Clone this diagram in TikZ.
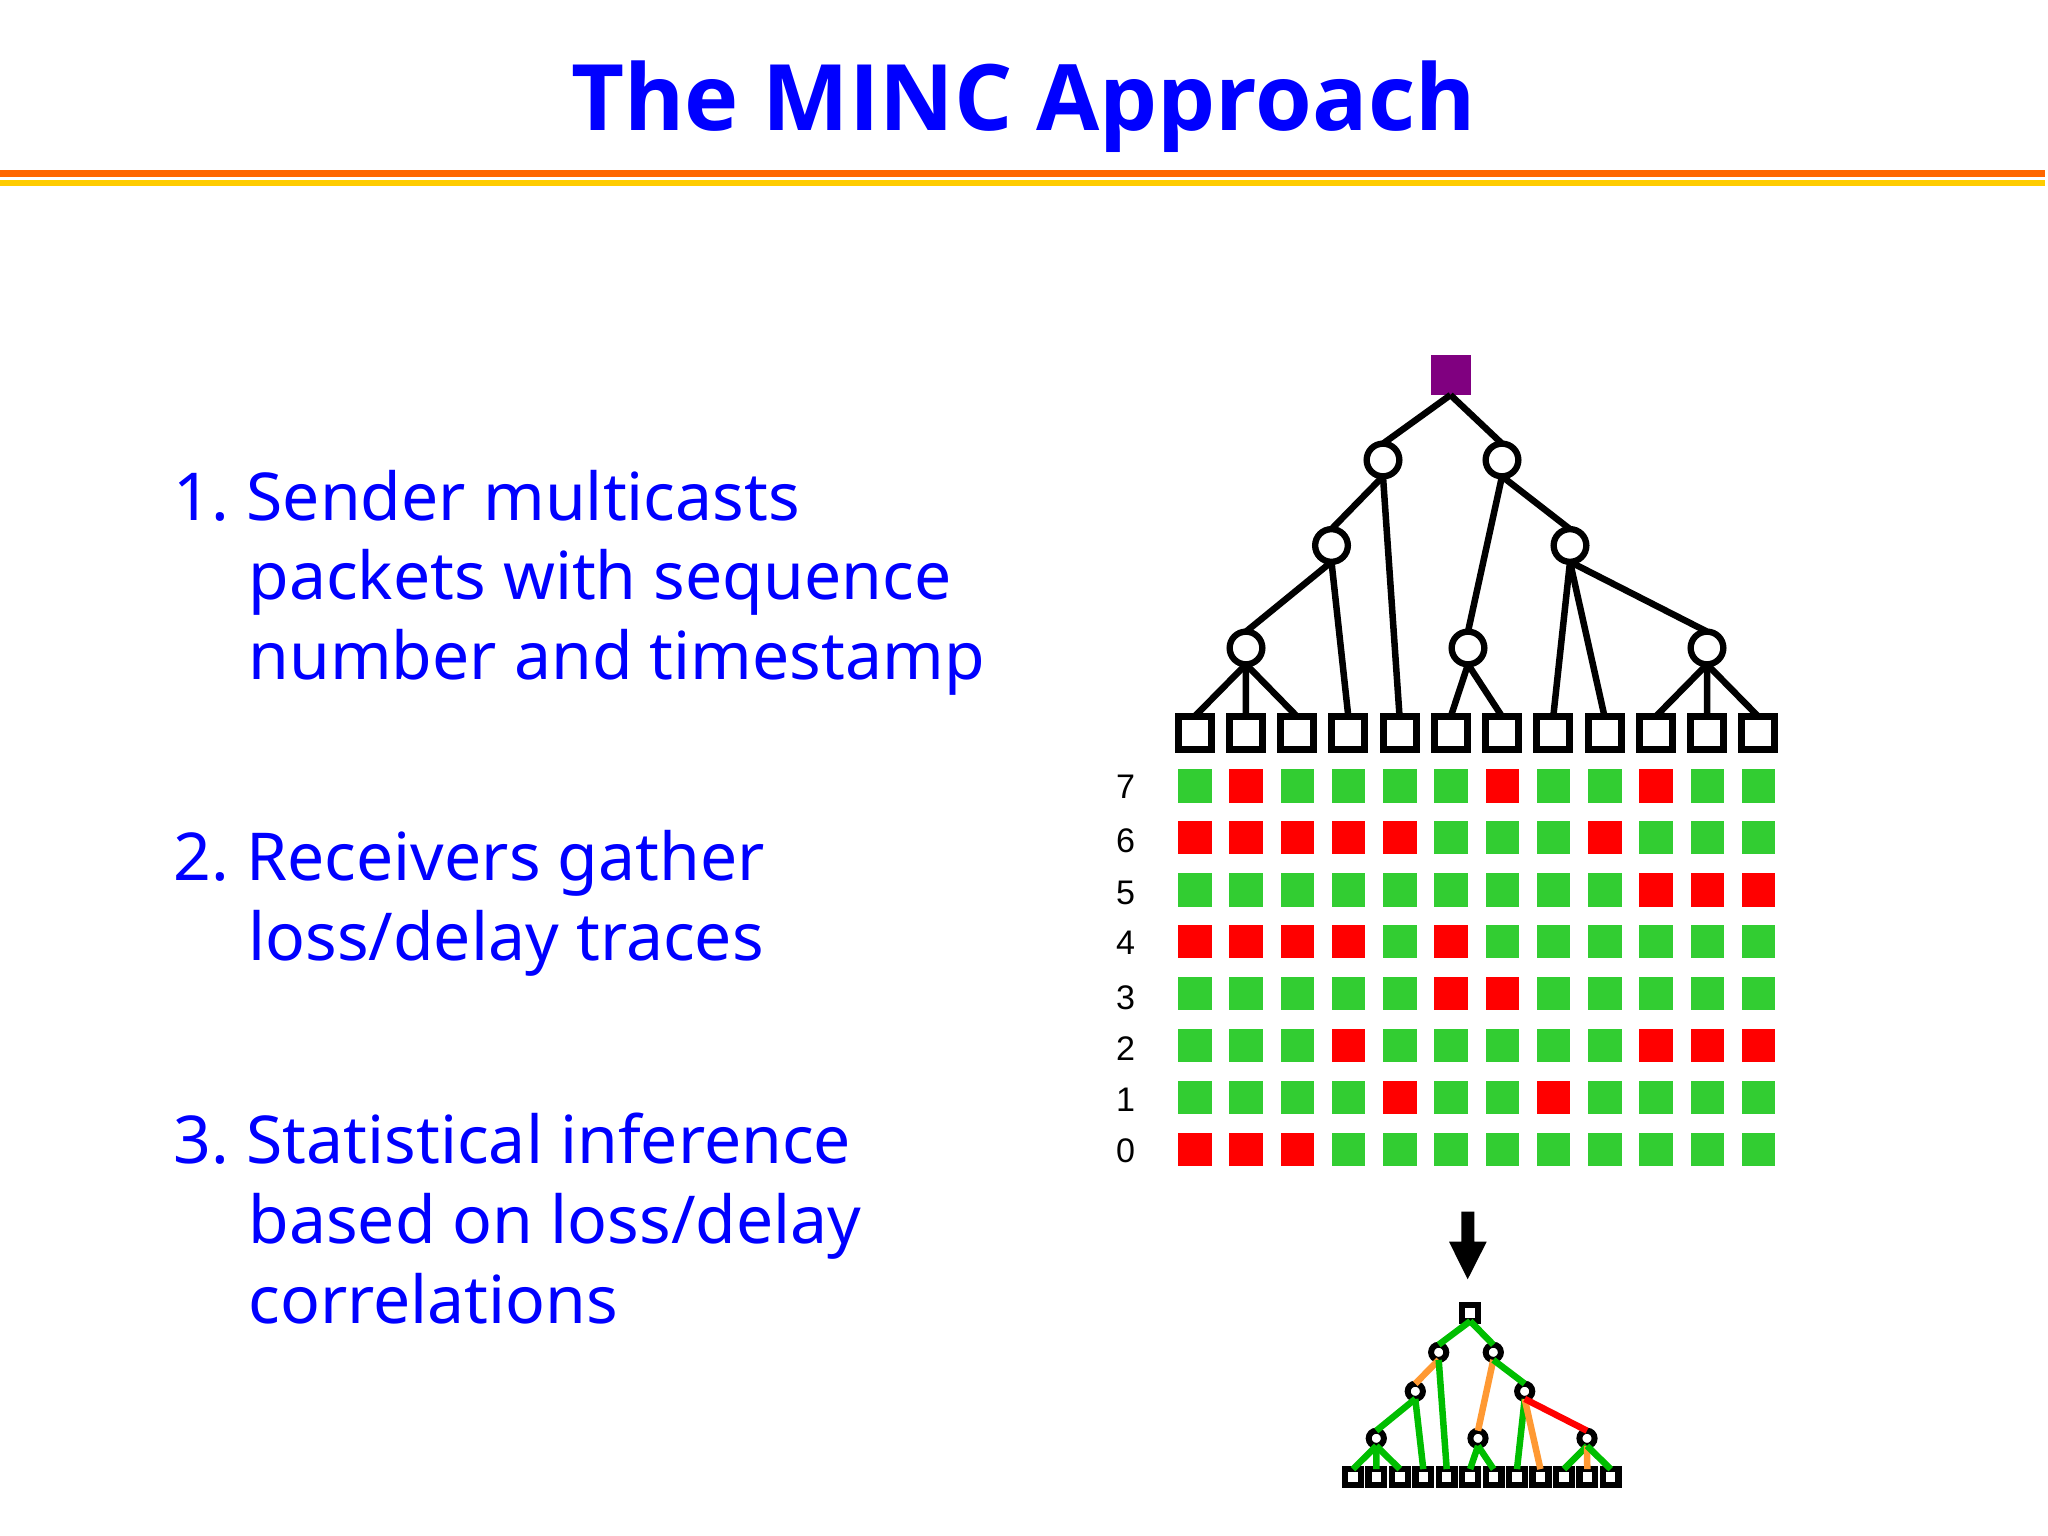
\documentclass[tikz,border=0pt]{standalone}
\usepackage{fontspec}
\setmainfont{Noto Sans}
\newfontfamily\headfont{Open Sans}
\newfontfamily\digitfont{Liberation Sans}
\definecolor{titleblue}{RGB}{0,0,255}
\definecolor{rulebrown}{RGB}{255,102,0}
\definecolor{ruleyellow}{RGB}{255,204,0}
\definecolor{okgreen}{RGB}{50,205,50}
\definecolor{edgegreen}{RGB}{0,190,0}
\definecolor{edgeorange}{RGB}{255,153,51}
\definecolor{rootpurple}{RGB}{128,0,128}
\tikzset{
  router/.style={circle, draw, line width=1.8pt, fill=white, inner sep=0, outer sep=0, minimum size=0.327cm},
  host/.style={rectangle, draw, line width=2pt, fill=white, inner sep=0, outer sep=0, minimum size=0.33cm},
  srouter/.style={circle, draw, line width=1.7pt, fill=white, inner sep=0, outer sep=0, minimum size=0.152cm},
  shost/.style={rectangle, draw, line width=1.8pt, fill=white, inner sep=0, outer sep=0, minimum size=0.158cm},
  cell/.style={rectangle, inner sep=0, outer sep=0, minimum size=0.335cm},
  link/.style={line width=1.85pt},
  body/.style={anchor=base west, text=titleblue, font=\fontsize{18.8pt}{22pt}\selectfont}
}
\begin{document}
\begin{tikzpicture}[y=-1cm]
  \useasboundingbox (0,0) rectangle (20.48,15.36);

  \node (title) [anchor=base, text=titleblue, font=\headfont\fontsize{26.1pt}{30pt}\selectfont\bfseries] at (10.235,1.305) {The MINC Approach};
  \draw [rulebrown, line width=2pt] (0,1.735) -- (20.45,1.735);
  \draw [ruleyellow, line width=1.7pt] (0,1.83) -- (20.45,1.83);

  \node (one) [body] at (1.615,5.205) {1.\ Sender multicasts};
  \node (oneb) [body] at (2.36,6.0) {packets with sequence};
  \node (onec) [body] at (2.36,6.8) {number and timestamp};
  \node (two) [body] at (1.615,8.805) {2.\ Receivers gather};
  \node (twob) [body] at (2.36,9.605) {loss/delay traces};
  \node (three) [body] at (1.615,11.63) {3.\ Statistical inference};
  \node (threeb) [body] at (2.36,12.43) {based on loss/delay};
  \node (threec) [body] at (2.36,13.23) {correlations};

  % large tree
  \node (root) [rectangle, fill=rootpurple, minimum width=0.4cm, minimum height=0.4cm, inner sep=0, outer sep=0] at (14.505,3.75) {};
  \node (a1) [router] at (13.83,4.6) {};
  \node (a2) [router] at (15.02,4.6) {};
  \node (b1) [router] at (13.315,5.455) {};
  \node (b2) [router] at (15.70,5.455) {};
  \node (c1) [router] at (12.46,6.48) {};
  \node (c2) [router] at (14.68,6.48) {};
  \node (c3) [router] at (17.07,6.48) {};
  \foreach \i in {1,...,12}
    \node (h\i) [host] at ({11.946+(\i-1)*0.5124},7.33) {};
  \foreach \from/\to in {root/a1,root/a2,a1/b1,a1/h5,a2/c2,a2/b2,b1/c1,b1/h4,b2/h8,b2/h9,b2/c3,
                         c1/h1,c1/h2,c1/h3,c2/h6,c2/h7,c3/h10,c3/h11,c3/h12}
    \draw [link] (\from.south) -- (\to.north);

  % loss traces
  \foreach \y/\ty/\rows [count=\r] in {7.86/7.87/{0,1,0,0,0,0,1,0,0,1,0,0},
                                 8.377/8.41/{1,1,1,1,1,0,0,0,1,0,0,0},
                                 8.898/8.927/{0,0,0,0,0,0,0,0,0,1,1,1},
                                 9.417/9.43/{1,1,1,1,0,1,0,0,0,0,0,0},
                                 9.937/9.977/{0,0,0,0,0,1,1,0,0,0,0,0},
                                 10.457/10.487/{0,0,0,1,0,0,0,0,0,1,1,1},
                                 10.975/11.0/{0,0,0,0,1,0,0,1,0,0,0,0},
                                 11.493/11.51/{1,1,1,0,0,0,0,0,0,0,0,0}} {
    \pgfmathtruncatemacro{\seq}{8-\r}
    \node (t\seq) [font=\digitfont\fontsize{9.7pt}{11pt}\selectfont] at (11.257,\ty) {\seq};
    \foreach \v [count=\i] in \rows {
      \ifnum\v=1 \def\shade{red}\else \def\shade{okgreen}\fi
      \node (p\seq-\i) [cell, fill=\shade] at ({11.95+(\i-1)*0.5124},\y) {};
    }
  }

  % arrow
  \fill (14.613,12.117) -- (14.743,12.117) -- (14.743,12.417) -- (14.867,12.417)
    -- (14.677,12.793) -- (14.49,12.417) -- (14.613,12.417) -- cycle;

  % small tree
  \node (sroot) [shost] at (14.702,13.132) {};
  \node (sa1) [srouter] at (14.387,13.523) {};
  \node (sa2) [srouter] at (14.933,13.523) {};
  \node (sb1) [srouter] at (14.153,13.913) {};
  \node (sb2) [srouter] at (15.247,13.913) {};
  \node (sc1) [srouter] at (13.763,14.383) {};
  \node (sc2) [srouter] at (14.78,14.383) {};
  \node (sc3) [srouter] at (15.87,14.383) {};
  \foreach \i in {1,...,12}
    \node (s\i) [shost] at ({13.53+(\i-1)*0.2343},14.77) {};
  \foreach \from/\to/\col in {sroot/sa1/edgegreen,sroot/sa2/edgegreen,sa1/sb1/edgeorange,sa1/s5/edgegreen,
                              sa2/sc2/edgeorange,sa2/sb2/edgegreen,sb1/sc1/edgegreen,sb1/s4/edgegreen,
                              sb2/s8/edgegreen,sb2/s9/edgeorange,sb2/sc3/red,
                              sc1/s1/edgegreen,sc1/s2/edgegreen,sc1/s3/edgegreen,sc2/s6/edgegreen,sc2/s7/edgegreen,
                              sc3/s10/edgegreen,sc3/s11/edgeorange,sc3/s12/edgegreen}
    \draw [link, \col] (\from.south) -- (\to.north);
\end{tikzpicture}
\end{document}
